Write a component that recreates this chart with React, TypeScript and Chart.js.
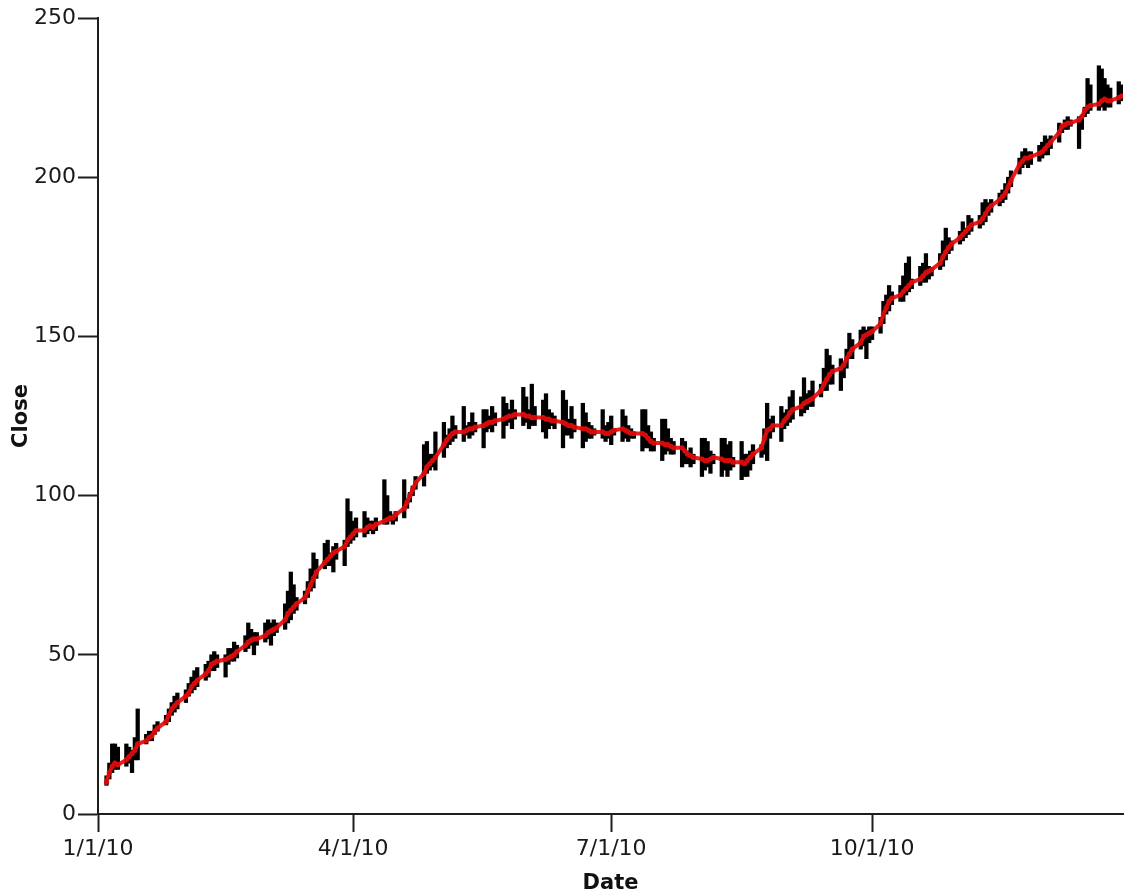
import React, { useEffect, useRef } from "react";
import { Chart, registerables } from "chart.js";

Chart.register(...registerables);

// Trading days of 2010 (weekdays), counted as days since 1 Jan 2010 (Jan 4 = Monday = day 3)
const firstMonday = 3;
const lastDay = 361;
const xMax = 361.5;

// Close, one row per trading week (Mon..Fri)
const closeValues: number[] = [
  10, 13, 15, 16, 15.5,
  17, 18, 19, 20, 22,
  23, 24, 24.5, 26, 27,
  29, 31, 33, 34, 35,
  37, 38, 40, 41, 42,
  44, 45, 47, 47.5, 48,
  48.5, 49, 49.5, 50, 51,
  53, 54, 54.6, 55, 55,
  56, 57, 57.5, 58, 58.5,
  61, 63, 64, 65, 66,
  68, 70, 72, 74, 76,
  79, 80, 81, 82, 82.5,
  84, 86, 87, 88, 89,
  89, 90, 90.5, 90, 91,
  92, 92.5, 93, 93, 94,
  96, 98, 100, 102, 104,
  107, 109, 110, 111, 112,
  116, 117.5, 118.5, 119.5, 120,
  120, 120.5, 121, 121, 121.5,
  122, 122.5, 123, 123, 123.5,
  124, 124.5, 125, 125, 125.5,
  125.5, 125, 125, 124.5, 124.5,
  124.5, 124, 124, 123.5, 123.5,
  123, 122.5, 122, 122, 121.5,
  121, 121, 120.5, 120, 120,
  120, 119.5, 119.5, 120, 120.5,
  121, 120.5, 120, 119.5, 119.5,
  119.5, 119, 118, 117, 116.5,
  116.5, 116, 116, 115.5, 115,
  115, 114, 113, 112.5, 112,
  111.5, 111, 111, 111.5, 112,
  111.5, 111, 111, 111, 110.5,
  110.5, 110, 111, 112, 113,
  115, 118, 120.5, 121, 122,
  122, 123.5, 124.5, 126, 127,
  128, 129, 129.5, 130, 130.5,
  133, 135, 136.5, 138, 139,
  140, 141, 143, 144.5, 146,
  148, 150, 150.5, 151, 151.5,
  154, 157, 159, 161, 162,
  163, 164, 165, 166, 167,
  168, 169, 170, 170.5, 171,
  173, 175, 176.5, 178, 179,
  181, 182, 183, 184, 185,
  186, 187, 188.5, 190, 191,
  193, 194, 195, 197, 199,
  204, 205, 206, 206, 206.5,
  207.5, 208, 209, 210, 211,
  214, 216, 216.5, 217, 217,
  218, 219, 221, 222, 222.5,
  223, 224, 224.5, 224, 224,
  225, 225.5,
];

const highValues: number[] = [
  12, 16, 22, 22, 21,
  22, 21, 20, 24, 33,
  25, 26, 26, 28, 29,
  31, 33, 35, 37, 38,
  39, 41, 43, 45, 46,
  47, 48, 50, 51, 50,
  50, 52, 52, 54, 53,
  56, 60, 58, 57, 57,
  60, 61, 60, 61, 60,
  66, 70, 76, 72, 68,
  70, 73, 77, 82, 80,
  85, 86, 82, 84, 85,
  86, 99, 95, 92, 93,
  95, 93, 92, 92, 93,
  105, 100, 95, 94, 95,
  105, 99, 101, 103, 106,
  116, 117, 113, 113, 120,
  123, 119, 121, 125, 122,
  128, 122, 123, 126, 123,
  127, 127, 125, 128, 126,
  131, 129, 127, 130, 127,
  134, 131, 127, 135, 128,
  130, 132, 127, 126, 125,
  133, 130, 124, 128, 124,
  129, 126, 123, 122, 121,
  127, 122, 123, 125, 121,
  127, 125, 122, 121, 120,
  127, 127, 122, 120, 118,
  124, 124, 121, 118, 117,
  118, 117, 114, 115, 113,
  118, 118, 117, 114, 113,
  118, 118, 116, 117, 112,
  117, 113, 113, 114, 116,
  116, 121, 129, 124, 125,
  128, 126, 127, 131, 133,
  131, 137, 132, 133, 136,
  135, 140, 146, 144, 141,
  143, 142, 146, 151, 149,
  152, 153, 152, 153, 153,
  156, 161, 163, 166, 164,
  166, 169, 173, 175, 168,
  172, 173, 176, 172, 171,
  176, 180, 184, 181, 180,
  183, 186, 184, 188, 187,
  188, 192, 193, 192, 193,
  195, 196, 198, 200, 202,
  206, 208, 209, 208, 208,
  210, 211, 213, 212, 213,
  217, 216, 218, 219, 218,
  219, 219, 222, 231, 229,
  235, 234, 231, 229, 228,
  230, 229,
];

const lowValues: number[] = [
  9, 11, 13, 14, 14,
  15, 16, 13, 17, 17,
  22, 23, 23, 25, 26,
  28, 29, 31, 32, 33,
  35, 37, 38, 39, 40,
  42, 43, 45, 45, 46,
  43, 47, 48, 48, 49,
  51, 52, 53, 50, 53,
  54, 55, 53, 56, 57,
  58, 60, 61, 63, 64,
  66, 68, 70, 71, 74,
  77, 78, 78, 76, 80,
  78, 84, 85, 86, 87,
  87, 88, 89, 88, 89,
  91, 91, 92, 91, 92,
  93, 96, 98, 100, 102,
  103, 107, 108, 109, 108,
  112, 115, 116, 117, 118,
  117, 119, 118, 119, 120,
  115, 120, 121, 120, 122,
  118, 122, 123, 121, 124,
  122, 123, 121, 122, 122,
  120, 118, 121, 122, 121,
  115, 119, 119, 118, 120,
  115, 117, 118, 118, 119,
  118, 117, 118, 116, 119,
  117, 118, 117, 118, 118,
  114, 115, 115, 114, 114,
  111, 113, 114, 113, 113,
  109, 110, 110, 109, 110,
  106, 108, 109, 107, 110,
  106, 108, 106, 108, 109,
  105, 106, 106, 108, 110,
  112, 113, 111, 118, 120,
  117, 121, 122, 123, 124,
  125, 126, 127, 128, 128,
  131, 133, 133, 135, 135,
  133, 137, 140, 143, 143,
  146, 147, 143, 148, 149,
  151, 154, 157, 158, 160,
  161, 161, 163, 164, 165,
  166, 167, 167, 168, 169,
  171, 172, 174, 176, 177,
  179, 180, 181, 182, 183,
  184, 185, 186, 188, 189,
  191, 192, 193, 195, 197,
  201, 203, 204, 203, 204,
  205, 206, 207, 207, 209,
  211, 214, 215, 215, 216,
  209, 215, 219, 220, 221,
  221, 222, 221, 222, 222,
  223, 224,
];

const tickDays: number[] = [0, 90, 181, 273];
const tickLabels: string[] = ["1/1/10", "4/1/10", "7/1/10", "10/1/10"];
const yTicks: number[] = [0, 50, 100, 150, 200, 250];

function tradingDays(): number[] {
  const out: number[] = [];
  for (let d = firstMonday; d <= lastDay; d++) {
    if ((d - firstMonday) % 7 < 5) out.push(d);
  }
  return out;
}

export default function App() {
  const ref = useRef<HTMLCanvasElement | null>(null);

  useEffect(() => {
    const canvas = ref.current;
    if (!canvas) return;
    const days = tradingDays();
    const n = Math.min(days.length, closeValues.length, highValues.length, lowValues.length);
    const barData: any[] = [];
    const lineData: any[] = [];
    for (let i = 0; i < n; i++) {
      barData.push({ x: days[i], y: [lowValues[i], highValues[i]] });
      lineData.push({ x: days[i], y: closeValues[i] });
    }
    const axisColor = "#1e1e1e";
    const chart = new Chart(canvas, {
      type: "bar",
      data: {
        datasets: [
          {
            type: "line",
            label: "Close",
            data: lineData,
            borderColor: "rgba(230,18,18,0.95)",
            backgroundColor: "rgba(215,10,10,1)",
            borderWidth: 4,
            pointRadius: 2.6,
            pointBorderWidth: 0,
            tension: 0,
            order: 0,
          } as any,
          {
            type: "bar",
            label: "Range",
            data: barData,
            backgroundColor: "#000000",
            borderWidth: 0,
            barThickness: 3.6,
            grouped: false,
            order: 1,
          } as any,
        ],
      },
      options: {
        responsive: false,
        devicePixelRatio: 1,
        animation: false,
        layout: { padding: { top: 18, right: 0, bottom: 0, left: 0 } },
        plugins: {
          legend: { display: false },
          tooltip: { enabled: false },
        },
        scales: {
          x: {
            type: "linear",
            min: 0,
            max: xMax,
            offset: false,
            grid: {
              offset: false,
              drawOnChartArea: false,
              drawTicks: true,
              tickLength: 18,
              tickColor: axisColor,
              tickWidth: 2,
            },
            border: { display: true, color: axisColor, width: 2 },
            afterBuildTicks: (scale: any) => {
              scale.ticks = tickDays.map((v) => ({ value: v }));
            },
            afterFit: (scale: any) => {
              scale.height = 82;
            },
            ticks: {
              autoSkip: false,
              maxRotation: 0,
              padding: 4,
              color: "#1a1a1a",
              font: { family: "DejaVu Sans", size: 22 },
              callback: (value: any) => {
                const i = tickDays.indexOf(Number(value));
                return i >= 0 ? tickLabels[i] : "";
              },
            },
            title: {
              display: true,
              text: "Date",
              color: "#111",
              font: { family: "DejaVu Sans", size: 21, weight: "bold" },
              padding: { top: 0, bottom: 0 },
            },
          },
          y: {
            type: "linear",
            min: 0,
            max: 250,
            grid: {
              drawOnChartArea: false,
              drawTicks: true,
              tickLength: 20,
              tickColor: axisColor,
              tickWidth: 2,
            },
            border: { display: true, color: axisColor, width: 2 },
            afterBuildTicks: (scale: any) => {
              scale.ticks = yTicks.map((v) => ({ value: v }));
            },
            afterFit: (scale: any) => {
              scale.width = 98;
            },
            ticks: {
              padding: 2,
              color: "#1a1a1a",
              font: { family: "DejaVu Sans", size: 22 },
            },
            title: {
              display: true,
              text: "Close",
              color: "#111",
              font: { family: "DejaVu Sans", size: 21, weight: "bold" },
              padding: { top: 9, bottom: 0 },
            },
          },
        },
      } as any,
    });
    return () => chart.destroy();
  }, []);

  return (
    <div style={{ position: "absolute", left: 0, top: 0, width: 1127, height: 896, background: "#fff" }}>
      <canvas ref={ref} width={1127} height={896} style={{ display: "block" }} />
    </div>
  );
}
